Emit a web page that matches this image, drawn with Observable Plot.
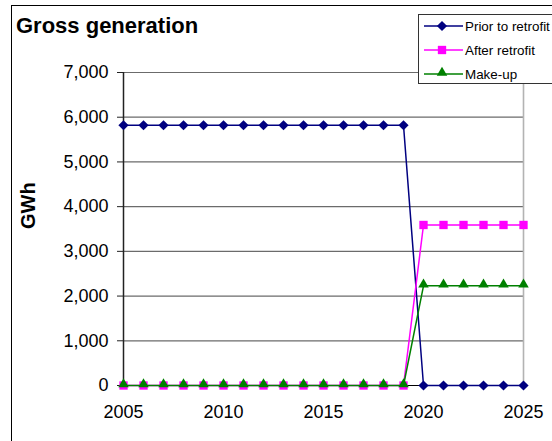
<!DOCTYPE html>
<html><head><meta charset="utf-8">
<script src="https://cdn.jsdelivr.net/npm/d3@7"></script>
<script src="https://cdn.jsdelivr.net/npm/@observablehq/plot@0.6"></script>
<style>
html,body{margin:0;padding:0;background:#fff;}
#wrap{position:relative;width:552px;height:441px;overflow:hidden;font-family:"Liberation Sans",Arial,sans-serif;background:#fff;}
#wrap > svg{position:absolute;left:0;top:0;}
#frame{position:absolute;left:11px;top:5px;width:700px;height:700px;border:1.5px solid #000;box-sizing:border-box;}
#title{position:absolute;left:16px;top:15px;font-size:22px;font-weight:bold;line-height:22px;white-space:nowrap;color:#000;}
#legend{position:absolute;left:418px;top:14px;width:200px;height:70px;border:1px solid #333;background:#fff;box-sizing:border-box;}
#legend svg{position:absolute;left:-1px;top:-1px;}
</style></head>
<body>
<div id="wrap"></div>
<script>
// ---- data ----
const years = [2005,2006,2007,2008,2009,2010,2011,2012,2013,2014,2015,2016,2017,2018,2019,2020,2021,2022,2023,2024,2025];
const priorToRetrofit = [5820,5820,5820,5820,5820,5820,5820,5820,5820,5820,5820,5820,5820,5820,5820,0,0,0,0,0,0];
const afterRetrofit   = [0,0,0,0,0,0,0,0,0,0,0,0,0,0,0,3590,3590,3590,3590,3590,3590];
const makeUp          = [0,0,0,0,0,0,0,0,0,0,0,0,0,0,0,2230,2230,2230,2230,2230,2230];
const seriesNames = ["Prior to retrofit","After retrofit","Make-up"];
const xTicks = [2005,2010,2015,2020,2025];
const yTicks = [0,1000,2000,3000,4000,5000,6000,7000];
const titleText = "Gross generation";
const yLabel = "GWh";

// ---- build ----
const styles = [
  {name: seriesNames[0], values: priorToRetrofit, color: "#000080", symbol: "diamond2", r: 4.6},
  {name: seriesNames[1], values: afterRetrofit, color: "#FF00FF", symbol: "square", r: 4.7},
  {name: seriesNames[2], values: makeUp, color: "#008000", symbol: "triangle", r: 3.9}
];
const rows = s => years.map((yr, i) => ({year: yr, value: s.values[i]}));

const marks = [
  Plot.gridY(yTicks, {stroke: "#6b6b6b", strokeOpacity: 1, strokeWidth: 1.2}),
  Plot.ruleX([2025], {stroke: "#b3b3b3", strokeWidth: 1.6}),
  Plot.ruleY([0], {stroke: "#000", strokeWidth: 1.2}),
  Plot.ruleX([2005], {stroke: "#222", strokeWidth: 1.5}),
  Plot.axisY({ticks: yTicks, tickFormat: d3.format(","), tickSize: 6, tickPadding: 9, fontSize: 18, label: null, stroke: "#222"}),
  Plot.axisX({ticks: xTicks, tickFormat: d => String(d), tickSize: 0, tickPadding: 20, fontSize: 18, label: null})
];
for (const s of styles) {
  const d = rows(s);
  marks.push(Plot.line(d, {x: "year", y: "value", stroke: s.color, strokeWidth: 1.5}));
  marks.push(Plot.dot(d, {x: "year", y: "value", symbol: s.symbol, fill: s.color, stroke: "none", r: s.r, dy: s.symbol === "triangle" ? -1.2 : 0}));
}
marks.push(Plot.text([yLabel], {text: d => d, frameAnchor: "left", dx: -95, dy: 0, rotate: -90, fontWeight: "bold", fontSize: 20, fill: "#000"}));

const chart = Plot.plot({
  width: 552, height: 441,
  marginLeft: 123, marginRight: 29, marginTop: 72, marginBottom: 56,
  x: {domain: [2005, 2025]},
  y: {domain: [0, 7000]},
  style: {fontFamily: '"Liberation Sans", Arial, sans-serif', fontSize: "18px", color: "#000", background: "transparent"},
  marks
});
const wrap = document.getElementById("wrap");
wrap.appendChild(chart);

const frame = document.createElement("div"); frame.id = "frame"; wrap.appendChild(frame);
const title = document.createElement("div"); title.id = "title"; title.textContent = titleText; wrap.appendChild(title);

// legend
const legend = document.createElement("div"); legend.id = "legend"; wrap.appendChild(legend);
const lsvg = d3.select(legend).append("svg").attr("width", 200).attr("height", 72);
const symMap = {diamond2: d3.symbolDiamond2, square: d3.symbolSquare, triangle: d3.symbolTriangle};
styles.forEach((s, i) => {
  const cy = 12 + i * 24;
  const g = lsvg.append("g");
  g.append("line").attr("x1", 6).attr("x2", 45).attr("y1", cy).attr("y2", cy).attr("stroke", s.color).attr("stroke-width", 1.5);
  g.append("path").attr("d", d3.symbol(symMap[s.symbol], Math.PI * s.r * s.r)())
    .attr("transform", `translate(24,${cy + (s.symbol === "triangle" ? -1.2 : 0)})`).attr("fill", s.color);
  g.append("text").attr("x", 47).attr("y", cy).attr("dy", "0.35em").attr("font-size", 13.4)
    .attr("font-family", '"Liberation Sans", Arial, sans-serif').text(s.name);
});
</script>
</body></html>
